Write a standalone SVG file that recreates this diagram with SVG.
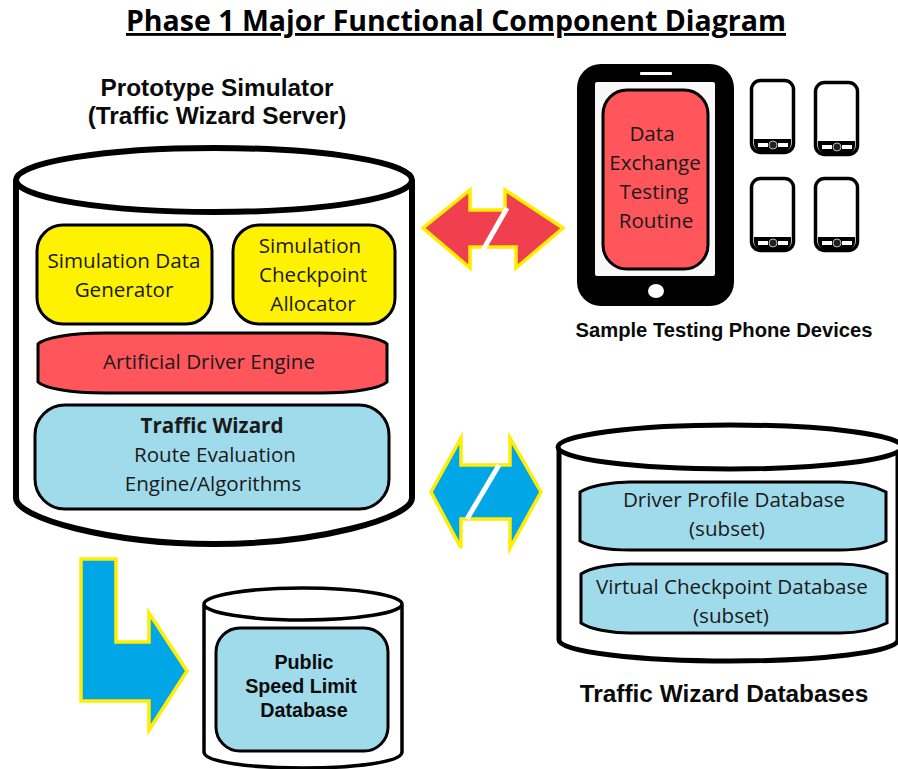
<svg xmlns="http://www.w3.org/2000/svg" width="898" height="769" viewBox="0 0 898 769">
<style>
.t{font-family:"Open Sans","Noto Sans",sans-serif;font-size:20.6px;fill:#1a1a1a;text-anchor:middle}
.b{font-family:"Liberation Sans",Arial,sans-serif;font-weight:bold;fill:#0a0a0a;text-anchor:middle}
.cyl{fill:#fff;stroke:#000}
.box{stroke:#000;stroke-width:3}
.blue{fill:#a0dbeb}.yel{fill:#fff200}.red{fill:#ff565c}
.arrow{stroke:#ffee00;stroke-width:3.5;stroke-linejoin:miter}
</style>
<rect width="898" height="769" fill="#fff"/>
<text x="456" y="31" font-size="28.5" style="font-family:'Open Sans','Noto Sans',sans-serif;font-weight:bold;text-anchor:middle;text-decoration:underline" fill="#000">Phase 1 Major Functional Component Diagram</text>

<g id="connectors">
<g id="arrow-phone">
<path class="arrow" fill="#f0404f" d="M423 228L470 190V210H505V190L563 228L516 268V247H470V268Z"/>
<path d="M483 250L507 208" stroke="#fff" stroke-width="5" fill="none"/>
</g>
<g id="arrow-databases">
<path class="arrow" fill="#00a6e6" d="M431 492L461 438V465H510V438L541 492L510 548V519H461V548Z"/>
<path d="M467 519L499 465" stroke="#fff" stroke-width="5" fill="none"/>
</g>
<g id="arrow-speed">
<path class="arrow" fill="#00a6e6" d="M81 559H116V642H149V613L187 671L149 730V701H81Z"/>
</g>
</g>

<g id="simulator">
<path class="cyl" stroke-width="6" d="M16 180V498C16 518 110 544 214 544C318 544 412 518 412 498V180"/>
<ellipse class="cyl" stroke-width="6" cx="214" cy="180" rx="198" ry="32"/>
<text class="b" x="217" y="96" font-size="24.4">Prototype Simulator</text>
<text class="b" x="217" y="124" font-size="24.4">(Traffic Wizard Server)</text>
</g>
<g id="data-generator">
<rect class="box yel" x="37" y="225" width="175" height="99" rx="26"/>
<text class="t" x="124" y="268">Simulation Data</text>
<text class="t" x="124" y="297">Generator</text>
</g>
<g id="checkpoint-allocator">
<rect class="box yel" x="233" y="225" width="162" height="99" rx="26"/>
<text class="t" x="310" y="253">Simulation</text>
<text class="t" x="313" y="282">Checkpoint</text>
<text class="t" x="313" y="311">Allocator</text>
</g>
<g id="driver-engine">
<path class="box red" d="M38 344C44 338 70 333 105 333H320C355 333 381 338 387 344V382C381 388 355 393 320 393H105C70 393 44 388 38 382Z"/>
<text class="t" x="209" y="369">Artificial Driver Engine</text>
</g>
<g id="route-engine">
<rect class="box blue" x="35" y="405" width="354" height="104" rx="30"/>
<text class="t" x="212" y="433" style="font-weight:bold">Traffic Wizard</text>
<text class="t" x="215" y="462">Route Evaluation</text>
<text class="t" x="213" y="491">Engine/Algorithms</text>
</g>

<g id="main-phone">
<rect x="577" y="64" width="157" height="242" rx="24" fill="#000"/>
<rect x="595" y="82" width="120" height="194" rx="2" fill="#f8f8f8"/>
<rect x="640" y="72" width="32" height="3" rx="1" fill="#fff"/>
<ellipse cx="656" cy="291" rx="8" ry="7" fill="#fff"/>
<rect class="box red" x="603" y="90" width="105" height="179" rx="24"/>
<text class="t" x="652" y="141">Data</text>
<text class="t" x="655" y="170">Exchange</text>
<text class="t" x="654" y="199">Testing</text>
<text class="t" x="656" y="228">Routine</text>
</g>
<defs><g id="mini">
<rect x="1.5" y="1.5" width="42" height="72" rx="9" fill="#fff" stroke="#000" stroke-width="3.5"/>
<path d="M4 60H41V64C41 70 37 73 33 73H12C8 73 4 70 4 64Z" fill="#000"/>
<rect x="8" y="64" width="10" height="4" fill="#fff"/><rect x="28" y="64" width="10" height="4" fill="#fff"/>
<circle cx="23" cy="66" r="4" fill="#222" stroke="#bbb" stroke-width="1"/>
</g></defs>
<g id="phone-1"><use href="#mini" x="750" y="79"/></g>
<g id="phone-2"><use href="#mini" x="814" y="81"/></g>
<g id="phone-3"><use href="#mini" x="750" y="177"/></g>
<g id="phone-4"><use href="#mini" x="814" y="177"/></g>
<text class="b" x="724" y="337" font-size="20.2">Sample Testing Phone Devices</text>

<g id="databases">
<path class="cyl" stroke-width="5" d="M559 448V640C559 652 640 661 730 661C820 661 898 652 898 640V448"/>
<ellipse class="cyl" stroke-width="5" cx="730" cy="447" rx="172" ry="22"/>
<text class="b" x="724" y="702" font-size="24.4">Traffic Wizard Databases</text>
</g>
<g id="driver-profile">
<path class="box blue" d="M580 492C590 486 610 482 630 482H840C860 482 875 486 886 492V541C875 547 860 550 840 550H630C610 550 590 547 580 541Z"/>
<text class="t" x="734" y="507">Driver Profile Database</text>
<text class="t" x="727" y="536">(subset)</text>
</g>
<g id="virtual-checkpoint">
<path class="box blue" d="M581 574C590 568 610 564 630 564H840C860 564 875 568 887 574V623C875 629 860 633 840 633H630C610 633 590 629 581 623Z"/>
<text class="t" x="732" y="594">Virtual Checkpoint Database</text>
<text class="t" x="731" y="623">(subset)</text>
</g>

<g id="speed-limit">
<path class="cyl" stroke-width="3.5" d="M204 605V752C204 762 250 768 303 768C356 768 402 762 402 752V605"/>
<ellipse class="cyl" stroke-width="3.5" cx="303" cy="604" rx="99" ry="16"/>
<rect class="box blue" x="216" y="628" width="172" height="123" rx="24"/>
<text class="b" x="304" y="669" font-size="19.7">Public</text>
<text class="b" x="301" y="693" font-size="19.7">Speed Limit</text>
<text class="b" x="304" y="717" font-size="19.7">Database</text>
</g>
</svg>
